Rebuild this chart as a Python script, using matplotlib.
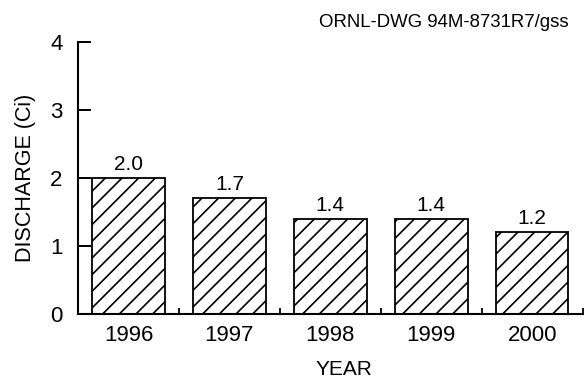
import numpy as np
import matplotlib
matplotlib.use("Agg")
import matplotlib.pyplot as plt

plt.rcParams['font.family'] = ['Liberation Sans', 'DejaVu Sans']
plt.rcParams['hatch.linewidth'] = 1.2

# Annual discharge by year
years = ["1996", "1997", "1998", "1999", "2000"]
discharge = [2.0, 1.7, 1.4, 1.4, 1.2]
y_ticks = [0, 1, 2, 3, 4]

fig = plt.figure(figsize=(5.84, 3.83), dpi=100)
ax = fig.add_axes([0.1336, 0.1802, 0.864, 0.7101])

x = np.arange(len(years))
ax.bar(x, discharge, width=0.72, color="white", edgecolor="black",
       linewidth=1.3, hatch="//", zorder=2)

for xi, v in zip(x, discharge):
    ax.text(xi, v + 0.06, f"{v:.1f}", ha="center", va="bottom", fontsize=15)

ax.set_xlim(-0.5, len(years) - 0.5)
ax.set_ylim(0, 4)

# Year labels at bar centres, small tick marks between the bars
ax.set_xticks(x)
ax.set_xticklabels(years, fontsize=16)
ax.set_xticks(np.arange(len(years)) + 0.5, minor=True)
ax.tick_params(axis="x", which="major", length=0, pad=8)
ax.tick_params(axis="x", which="minor", direction="in", length=4.5, width=1.3)

ax.set_yticks(y_ticks)
ax.set_yticklabels([str(t) for t in y_ticks], fontsize=16)
ax.tick_params(axis="y", direction="in", length=9, width=1.4, pad=11)

for side in ["top", "right"]:
    ax.spines[side].set_visible(False)
for side in ["left", "bottom"]:
    ax.spines[side].set_linewidth(1.5)

ax.set_ylabel("DISCHARGE (Ci)", fontsize=15.5, labelpad=10)
ax.set_xlabel("YEAR", fontsize=15)
ax.xaxis.set_label_coords(0.527, -0.17)

fig.text(0.974, 0.93, "ORNL-DWG 94M-8731R7/gss", ha="right", va="baseline",
         fontsize=13.4)

fig.savefig("out.png", dpi=100)
